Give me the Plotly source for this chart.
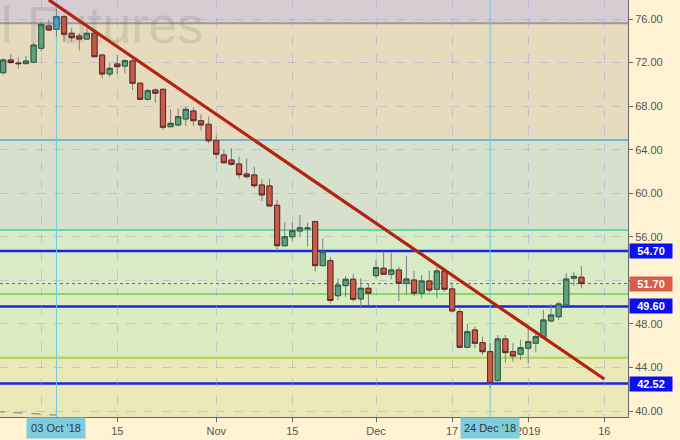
import plotly.graph_objects as go
import pandas as pd

# ---------------- data ----------------
dates = [
    "2018-09-24", "2018-09-25", "2018-09-26", "2018-09-27", "2018-09-28",
    "2018-10-01", "2018-10-02", "2018-10-03", "2018-10-04", "2018-10-05",
    "2018-10-08", "2018-10-09", "2018-10-10", "2018-10-11", "2018-10-12",
    "2018-10-15", "2018-10-16", "2018-10-17", "2018-10-18", "2018-10-19",
    "2018-10-22", "2018-10-23", "2018-10-24", "2018-10-25", "2018-10-26",
    "2018-10-29", "2018-10-30", "2018-10-31", "2018-11-01", "2018-11-02",
    "2018-11-05", "2018-11-06", "2018-11-07", "2018-11-08", "2018-11-09",
    "2018-11-12", "2018-11-13", "2018-11-14", "2018-11-15", "2018-11-16",
    "2018-11-19", "2018-11-20", "2018-11-21", "2018-11-23", "2018-11-26",
    "2018-11-27", "2018-11-28", "2018-11-29", "2018-11-30", "2018-12-03",
    "2018-12-04", "2018-12-05", "2018-12-06", "2018-12-07", "2018-12-10",
    "2018-12-11", "2018-12-12", "2018-12-13", "2018-12-14", "2018-12-17",
    "2018-12-18", "2018-12-19", "2018-12-20", "2018-12-21", "2018-12-24",
    "2018-12-26", "2018-12-27", "2018-12-28", "2018-12-31", "2019-01-02",
    "2019-01-03", "2019-01-04", "2019-01-07", "2019-01-08", "2019-01-09",
    "2019-01-10", "2019-01-11",
]
opens = [
    71.07, 72.24, 71.96, 71.90, 72.02,
    73.31, 75.36, 75.05, 76.21, 74.69,
    74.44, 74.16, 74.69, 72.69, 70.95,
    71.87, 71.68, 72.14, 70.10, 68.63,
    69.48, 69.54, 66.11, 66.27, 66.82,
    67.55, 66.66, 66.33, 64.82, 63.51,
    63.05, 62.69, 61.77, 61.68, 60.76,
    60.67, 58.89, 55.18, 56.00, 56.53,
    56.73, 57.39, 53.35, 53.81, 50.59,
    51.51, 52.10, 50.29, 51.27, 52.43,
    53.11, 52.56, 52.95, 51.73, 52.03,
    50.81, 51.94, 51.18, 52.86, 51.21,
    49.12, 45.85, 47.44, 46.28, 45.45,
    42.79, 46.62, 45.45, 45.21, 45.76,
    46.22, 46.77, 48.27, 48.66, 49.74,
    52.20, 52.28,
]
highs = [
    72.40, 72.79, 72.48, 72.60, 73.82,
    75.75, 75.91, 76.89, 76.37, 75.20,
    74.69, 75.15, 74.78, 72.76, 71.93,
    72.69, 72.30, 72.39, 70.20, 69.60,
    69.64, 69.64, 67.71, 67.80, 67.95,
    67.89, 67.25, 67.03, 65.35, 63.97,
    64.13, 63.36, 63.20, 62.44, 61.28,
    61.28, 59.38, 57.33, 57.33, 58.00,
    57.30, 57.48, 55.86, 54.12, 52.19,
    52.40, 52.60, 52.19, 51.73, 53.87,
    54.63, 54.54, 53.26, 54.24, 52.86,
    52.49, 52.86, 53.26, 53.10, 51.82,
    49.43, 47.99, 47.74, 46.83, 46.22,
    46.98, 46.98, 46.22, 46.55, 47.60,
    47.44, 49.28, 49.80, 50.04, 52.65,
    52.80, 53.32,
]
lows = [
    70.90, 71.87, 71.47, 71.87, 71.93,
    73.00, 74.93, 74.37, 73.92, 73.92,
    73.09, 74.10, 72.48, 70.55, 70.65,
    70.95, 71.01, 69.48, 68.50, 68.50,
    68.31, 65.81, 66.10, 66.10, 66.17,
    66.17, 65.74, 64.59, 63.14, 62.75,
    62.53, 61.33, 61.37, 60.45, 59.29,
    58.77, 54.72, 55.09, 55.60, 55.95,
    55.10, 52.80, 53.26, 49.87, 50.20,
    50.50, 50.04, 49.43, 49.74, 52.19,
    52.49, 52.10, 50.10, 50.66, 50.56,
    50.35, 50.87, 50.35, 50.97, 49.07,
    45.76, 45.76, 45.76, 45.14, 42.09,
    42.70, 44.44, 44.53, 44.69, 44.44,
    45.39, 46.68, 48.15, 48.36, 49.67,
    51.48, 51.27,
]
closes = [
    72.24, 72.00, 71.90, 72.14, 73.61,
    75.51, 74.99, 76.21, 74.60, 74.28,
    74.16, 74.69, 72.54, 70.95, 71.47,
    71.62, 72.17, 70.10, 68.63, 69.42,
    69.18, 66.06, 66.42, 67.03, 67.71,
    66.66, 66.27, 64.82, 63.58, 62.80,
    62.66, 61.70, 61.52, 60.69, 59.84,
    58.83, 55.18, 56.01, 56.56, 56.83,
    56.80, 53.35, 54.63, 50.15, 51.57,
    52.10, 50.26, 51.27, 50.81, 53.17,
    52.56, 52.95, 51.73, 52.12, 50.81,
    51.94, 51.11, 52.86, 51.18, 49.19,
    45.85, 47.28, 46.22, 45.45, 42.55,
    46.62, 45.36, 45.05, 45.82, 46.37,
    46.83, 48.36, 48.82, 49.83, 52.12,
    52.36, 51.70,
]

# axis calendar (trading days, holidays removed)
holidays = ["2018-11-22", "2018-12-25", "2019-01-01"]
calendar = [d.strftime("%Y-%m-%d") for d in pd.bdate_range("2018-09-21", "2019-01-18")]
calendar = [d for d in calendar if d not in holidays]
pos = {d: i for i, d in enumerate(calendar)}

# x ticks ("Oct" sits under the crosshair date label, so it is left blank)
tick_dates = ["2018-10-01", "2018-10-15", "2018-11-01", "2018-11-15",
              "2018-12-03", "2018-12-17", "2019-01-02", "2019-01-16"]
tick_text = ["", "15", "Nov", "15", "Dec", "17", "2019", "16"]
y_ticks = [40, 44, 48, 52, 56, 60, 64, 68, 72, 76]
hidden_y_ticks = [52]  # covered by the last-price label

# zone boundaries (bottom -> top) and levels
zone_bounds = [44.9, 50.75, 56.62, 64.89, 75.6]
support_levels = [54.70, 49.60, 42.52]
last_price = 51.70

trend_dates = ["2018-10-02", "2019-01-16"]
trend_prices = [77.75, 42.94]
old_trend_dates = ["2018-09-21", "2018-10-03"]
old_trend_prices = [39.95, 39.63]

marker_dates = ["2018-10-03", "2018-12-24"]
marker_labels = ["03 Oct '18", "24 Dec '18"]
highlight_date = "2018-10-03"

# ---------------- figure ----------------
x = [pos[d] for d in dates]
body_hi = [max(o, c) for o, c in zip(opens, closes)]
body_lo = [min(o, c) for o, c in zip(opens, closes)]

Y_MIN, Y_MAX = 39.449, 77.745
X_MIN = pos["2018-09-24"] - 0.417
X_MAX = X_MIN + 628 / 7.609

INC_FILL, INC_LINE = "#5E9F7D", "#2E5B42"
DEC_FILL, DEC_LINE = "#C95A4B", "#5E2A22"
WICK = "#7E7E7E"
FONT = "Liberation Sans, Arial"

fig = go.Figure()

# wicks
fig.add_trace(go.Candlestick(
    x=x, open=opens, high=highs, low=lows, close=closes,
    increasing=dict(line=dict(color=WICK, width=1), fillcolor=INC_FILL),
    decreasing=dict(line=dict(color=WICK, width=1), fillcolor=DEC_FILL),
    hoverinfo="skip", showlegend=False,
))
# bodies
fig.add_trace(go.Candlestick(
    x=x, open=opens, high=body_hi, low=body_lo, close=closes,
    increasing=dict(line=dict(color=INC_LINE, width=1), fillcolor=INC_FILL),
    decreasing=dict(line=dict(color=DEC_LINE, width=1), fillcolor=DEC_FILL),
    hoverinfo="skip", showlegend=False,
))
# highlighted candle
hi = dates.index(highlight_date)
fig.add_trace(go.Candlestick(
    x=[x[hi]], open=[opens[hi]], high=[body_hi[hi]], low=[body_lo[hi]], close=[closes[hi]],
    increasing=dict(line=dict(color="#2F6F8A", width=1), fillcolor="#4AA3C4"),
    decreasing=dict(line=dict(color="#2F6F8A", width=1), fillcolor="#4AA3C4"),
    hoverinfo="skip", showlegend=False,
))

# trend lines
fig.add_trace(go.Scatter(
    x=[pos[d] for d in trend_dates], y=trend_prices, mode="lines",
    line=dict(color="#B3230F", width=3.2), hoverinfo="skip", showlegend=False,
))
fig.add_trace(go.Scatter(
    x=[pos[d] for d in old_trend_dates], y=old_trend_prices, mode="lines",
    line=dict(color="#9A9A9A", width=1.5, dash="dash"), hoverinfo="skip", showlegend=False,
))

shapes = []
# background zones
zone_colors = ["#EAE8B8", "#DDEBC0", "#D9EAC6", "#D6E0CC", "#E6DBBE", "#D7CCD1"]
edges = [Y_MIN - 5] + zone_bounds + [Y_MAX + 5]
for i, col in enumerate(zone_colors):
    shapes.append(dict(type="rect", xref="paper", yref="y", x0=0, x1=1,
                       y0=edges[i], y1=edges[i + 1], fillcolor=col,
                       line=dict(width=0), layer="below"))
zone_line_colors = ["#A9D653", "#5FDA45", "#3DD39A", "#6FB6D2", "#9C9A9C"]
zone_line_widths = [2, 1.6, 1.6, 2, 2]
for v, col, w in zip(zone_bounds, zone_line_colors, zone_line_widths):
    shapes.append(dict(type="line", xref="paper", yref="y", x0=0, x1=1, y0=v, y1=v,
                       line=dict(color=col, width=w), layer="between"))
for v in support_levels:
    shapes.append(dict(type="line", xref="paper", yref="y", x0=0, x1=1, y0=v, y1=v,
                       line=dict(color="#1428E0", width=2.5), layer="between"))
shapes.append(dict(type="line", xref="paper", yref="y", x0=0, x1=1, y0=last_price, y1=last_price,
                   line=dict(color="#D04040", width=1, dash="dot"), layer="between"))
for d in marker_dates:
    shapes.append(dict(type="line", xref="x", yref="paper", x0=pos[d], x1=pos[d], y0=0, y1=1,
                       line=dict(color="#6CCBE0", width=1), layer="between"))

annotations = []
annotations.append(dict(
    text="Crude Oil Futures", xref="paper", yref="paper", x=205 / 628, y=0.94,
    xanchor="right", yanchor="middle", showarrow=False,
    font=dict(family=FONT, size=52, color="rgba(90,90,90,0.15)"),
))
for v in support_levels:
    annotations.append(dict(
        text=f"<b>{v:.2f}</b>", xref="paper", yref="y", x=1, y=v, xanchor="left", yanchor="middle",
        showarrow=False, bgcolor="#0A10F0", width=40, height=12, borderpad=1, xshift=1,
        font=dict(family=FONT, size=11, color="white"),
    ))
annotations.append(dict(
    text=f"<b>{last_price:.2f}</b>", xref="paper", yref="y", x=1, y=last_price, xanchor="left",
    yanchor="middle", showarrow=False, bgcolor="#D95B4B", width=40, height=12, borderpad=1, xshift=1,
    font=dict(family=FONT, size=11, color="white"),
))
for d, lab in zip(marker_dates, marker_labels):
    annotations.append(dict(
        text=lab, xref="x", yref="paper", x=pos[d], y=0, xanchor="center", yanchor="top",
        showarrow=False, bgcolor="#7ECCDE", width=56, height=18, borderpad=1,
        font=dict(family=FONT, size=11, color="#333333"),
    ))

GRID = "rgba(150,160,215,0.45)"
fig.update_layout(
    width=680, height=440,
    margin=dict(l=0, r=52, t=0, b=23, pad=0),
    paper_bgcolor="#FFF3D3", plot_bgcolor="#E6DBBE",
    showlegend=False, boxgap=0.32, boxgroupgap=0, boxmode="overlay",
    font=dict(family=FONT, size=11, color="#555555"),
    shapes=shapes, annotations=annotations,
    xaxis=dict(
        range=[X_MIN, X_MAX], tickmode="array",
        tickvals=[pos[d] for d in tick_dates], ticktext=tick_text,
        ticks="outside", ticklen=4, tickcolor="#666666",
        showline=True, linecolor="#666666", linewidth=1,
        showgrid=True, gridcolor=GRID, griddash="dash", gridwidth=1,
        zeroline=False, rangeslider=dict(visible=False), fixedrange=True,
        tickfont=dict(size=11, color="#555555"),
    ),
    yaxis=dict(
        side="right", range=[Y_MIN, Y_MAX], tickmode="array", tickvals=y_ticks,
        ticktext=["" if v in hidden_y_ticks else f"{v:.2f}" for v in y_ticks],
        ticks="outside", ticklen=4, tickcolor="#666666",
        showline=True, linecolor="#666666", linewidth=1,
        showgrid=True, gridcolor=GRID, griddash="dash", gridwidth=1,
        zeroline=False, fixedrange=True,
        tickfont=dict(size=11, color="#555555"),
    ),
)

fig.write_html("out.html", config={"displayModeBar": False},
               post_script="document.body.style.margin='0';")
